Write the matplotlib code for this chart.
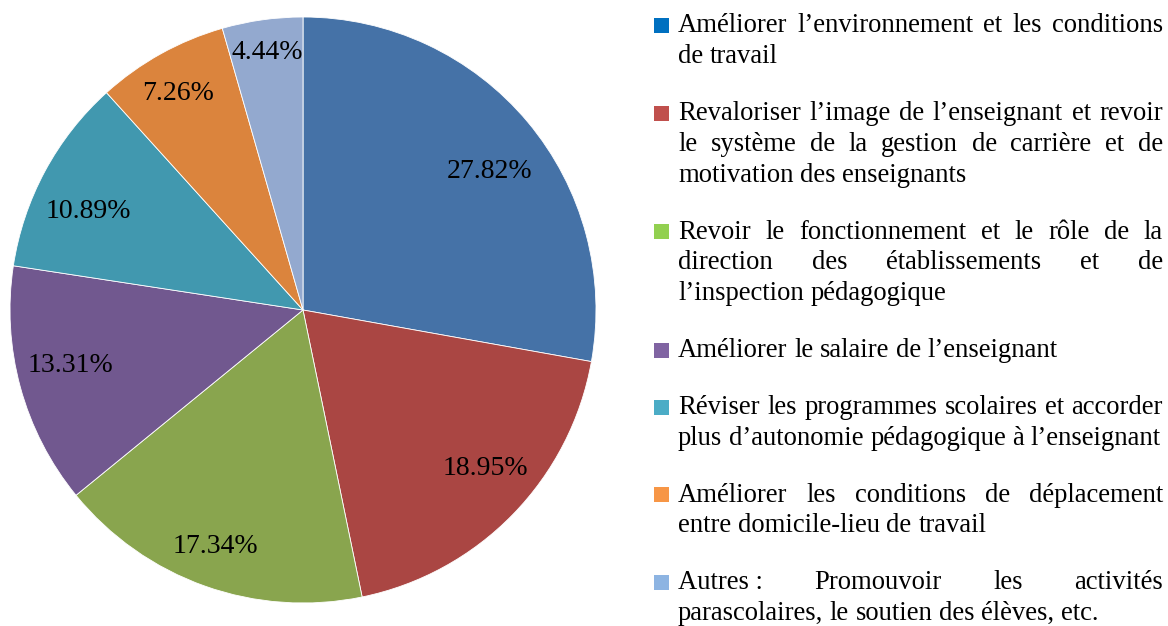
import matplotlib
matplotlib.use("Agg")
from matplotlib import pyplot as plt
from matplotlib.patches import Rectangle
import numpy as np

# data
values = [27.82, 18.95, 17.34, 13.31, 10.89, 7.26, 4.44]
slice_colors = ["#4572A7", "#AA4643", "#89A54E", "#71588F", "#4198AF", "#DB843D", "#93A9CF"]
key_colors = ["#0070C0", "#C0504D", "#92D050", "#8064A2", "#4BACC6", "#F79646", "#8DB4E2"]
legend_lines = [
    ["Améliorer l’environnement et les conditions", "de travail"],
    ["Revaloriser l’image de l’enseignant et revoir",
     "le système de la gestion de carrière et de",
     "motivation des enseignants"],
    ["Revoir le fonctionnement et le rôle de la",
     "direction des établissements et de",
     "l’inspection pédagogique"],
    ["Améliorer le salaire de l’enseignant"],
    ["Réviser les programmes scolaires et accorder",
     "plus d’autonomie pédagogique à l’enseignant"],
    ["Améliorer les conditions de déplacement",
     "entre domicile-lieu de travail"],
    ["Autres\u00a0: Promouvoir les activités",
     "parascolaires, le soutien des élèves, etc."],
]

W, H = 1168, 626
serif = "Liberation Serif"
fs_pie = 20.0
fs = 19.2

fig = plt.figure(figsize=(W / 100, H / 100), dpi=100)

# pie: centre (303, 310) px, radius 293 px
cx, cy, r = 303, 310, 293
ax = fig.add_axes([(cx - r) / W, (H - cy - r) / H, 2 * r / W, 2 * r / H])
wedges, texts, autotexts = ax.pie(
    values, colors=slice_colors, startangle=90, counterclock=False,
    autopct=lambda p: "%.2f%%" % p, pctdistance=0.82,
    wedgeprops=dict(edgecolor="white", linewidth=0.6),
    textprops=dict(fontsize=fs_pie, family=serif, color="black"))
ax.set_xlim(-1, 1)
ax.set_ylim(-1, 1)
ax.set_aspect("equal")

# best-fit style label placement (distance, angle nudge in degrees)
label_dist = [0.80, 0.815, 0.85, 0.815, 0.81, 0.865, 0.90]
label_turn = [-2.5, 3.9, -1.1, -2.6, 2.8, 0.6, -0.2]
for w, t, d, a in zip(wedges, autotexts, label_dist, label_turn):
    ang = np.deg2rad((w.theta1 + w.theta2) / 2 + a)
    t.set_position((d * np.cos(ang), d * np.sin(ang) - 0.012))

# legend with justified text
renderer = fig.canvas.get_renderer()
x0, x1 = 678, 1163
pitch, para_gap = 30.7, 57


def put_line(text, y, justify):
    words = text.split(" ")
    objs = [fig.text(0, 1 - y / H, wd, fontsize=fs, family=serif, va="center")
            for wd in words]
    widths = [o.get_window_extent(renderer).width for o in objs]
    if justify and len(words) > 1:
        gap = (x1 - x0 - sum(widths)) / (len(words) - 1)
    else:
        gap = fs * 0.25 * 100 / 72
    x = x0
    for o, wd in zip(objs, widths):
        o.set_x(x / W)
        x += wd + gap


y = 26
for lines, col in zip(legend_lines, key_colors):
    sq = 15
    fig.patches.append(Rectangle((654 / W, 1 - (y + 7) / H), sq / W, sq / H,
                                 transform=fig.transFigure, facecolor=col,
                                 edgecolor="none"))
    for i, ln in enumerate(lines):
        put_line(ln, y + i * pitch, i < len(lines) - 1)
    y += (len(lines) - 1) * pitch + para_gap

fig.savefig("out.png", dpi=100)
